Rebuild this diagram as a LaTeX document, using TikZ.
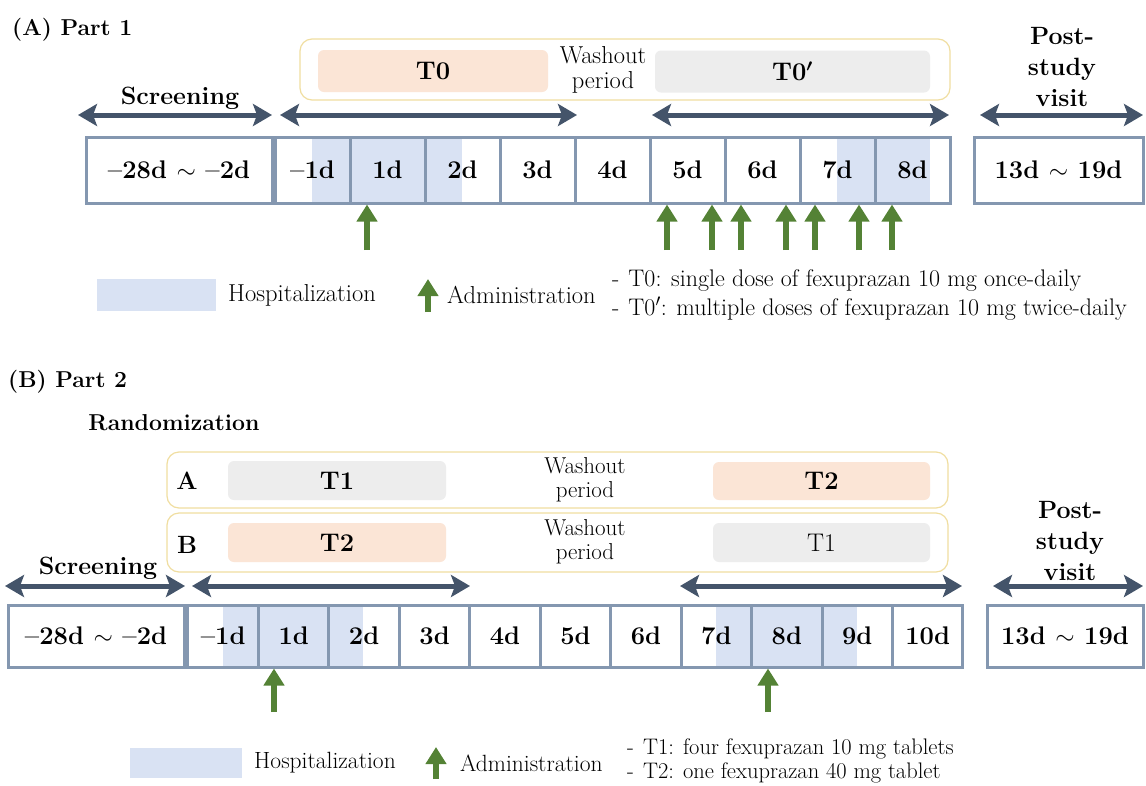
\documentclass[tikz,border=0pt]{standalone}
\usepackage{fontspec}
\usetikzlibrary{arrows.meta}

\definecolor{cellline}{RGB}{132,151,176}
\definecolor{spanblue}{RGB}{68,84,106}
\definecolor{admgreen}{RGB}{84,130,53}
\definecolor{hospblue}{RGB}{217,226,243}
\definecolor{washgold}{RGB}{240,222,160}
\definecolor{tpeach}{RGB}{251,229,214}
\definecolor{tgray}{RGB}{237,237,237}

\newcommand{\pxfont}[2]{\fontsize{#1}{#2}\selectfont}

\begin{document}
\begin{tikzpicture}[x=1pt, y=-1pt,
    daycell/.style={draw=cellline, line width=3pt, minimum width=#1, inner sep=0pt, font=\pxfont{25.5}{26}\bfseries},
    stretch/.style={line width=5pt, draw=spanblue, {Stealth[length=19pt,width=22pt,inset=4pt]}-{Stealth[length=19pt,width=22pt,inset=4pt]}},
    admin/.style={line width=6pt, draw=admgreen, -{Triangle[length=17pt,width=20pt]}},
    washbox/.style={draw=washgold, line width=1.2pt, rounded corners=12pt, fill=white},
    trt/.style={rounded corners=6pt, minimum height=42pt, inner sep=0pt, font=\pxfont{25.5}{26}\bfseries\boldmath},
    headtxt/.style={font=\pxfont{25}{31}\bfseries, align=center, inner sep=0pt},
    legtxt/.style={font=\pxfont{24.5}{26}, anchor=west, inner sep=0pt},
    notetxt/.style={font=\pxfont{24}{25}, anchor=west, align=left, inner sep=0pt}
  ]
  \useasboundingbox (0,0) rectangle (1146,785);

  % ---------- (A) Part 1 ----------
  \node[font=\pxfont{23}{23}\bfseries, anchor=base west, inner sep=0pt] (titleA) at (12,35) {(A) Part 1};

  % treatment periods
  \node[washbox, minimum width=650pt, minimum height=61pt] (washA) at (625,69.5) {};
  \node[trt, fill=tpeach, minimum width=230pt] (t0) at (433,71) {T0};
  \node[trt, fill=tgray, minimum width=275pt] (t0p) at (792.5,71.5) {T0$'$};
  \node[font=\pxfont{24.5}{25}, align=center, inner sep=0pt] (washtxtA) at (603,70) {Washout\\period};

  % hospitalization
  \fill[hospblue] (312,137) rectangle (461.5,203);
  \fill[hospblue] (837,137) rectangle (930,203);

  % days
  \node[daycell=186pt, minimum height=66pt] (scrA) at (179,170) {--28d $\sim$ --2d};
  \foreach \lab [count=\i from 0] in {--1d,1d,2d,3d,4d,5d,6d,7d,8d}
      \node[daycell=75pt, minimum height=66pt] (dA\i) at ({312.5+75*\i},170) {\lab};
  \node[daycell=169pt, minimum height=66pt] (postA) at (1058.5,170) {13d $\sim$ 19d};

  % periods above the days
  \coordinate (scrA-l) at (78,115);   \coordinate (scrA-r) at (272,115);
  \coordinate (t0-l) at (280,115);    \coordinate (t0-r) at (577,115);
  \coordinate (t0p-l) at (652,115);   \coordinate (t0p-r) at (949,115);
  \coordinate (postA-l) at (980,115); \coordinate (postA-r) at (1143,115);
  \draw[stretch] (scrA-l) -- (scrA-r);
  \draw[stretch] (t0-l) -- (t0-r);
  \draw[stretch] (t0p-l) -- (t0p-r);
  \draw[stretch] (postA-l) -- (postA-r);
  \node[headtxt, anchor=base] (scrtxtA) at (180,104) {Screening};
  \node[headtxt] (posttxtA) at (1062,67) {Post-\\study\\visit};

  % dosing
  \foreach \x in {367,667,712,741,786,815,859,892}
      \draw[admin] (\x,250) -- (\x,0 |- dA0.south);

  % legend
  \node[fill=hospblue, minimum width=119pt, minimum height=32pt] (hospkeyA) at (156.5,295) {};
  \node[legtxt] (hosptxtA) at (228,295) {Hospitalization};
  \coordinate (admkeyA-b) at (428,312); \coordinate (admkeyA-t) at (428,279);
  \draw[admin] (admkeyA-b) -- (admkeyA-t);
  \node[legtxt] (admtxtA) at (447,295) {Administration};
  \node[notetxt] (notesA) at (612,295) {-\hspace{9pt}T0: single dose of fexuprazan 10 mg once-daily\\[4pt]-\hspace{9pt}T0$'$: multiple doses of fexuprazan 10 mg twice-daily};

  % ---------- (B) Part 2 ----------
  \node[font=\pxfont{23}{23}\bfseries, anchor=base west, inner sep=0pt] (titleB) at (8,387) {(B) Part 2};
  \node[headtxt, font=\pxfont{23}{25}\bfseries, anchor=base] (randtxt) at (174,430) {Randomization};

  % sequences
  \node[washbox, minimum width=781pt, minimum height=56pt] (seqboxA) at (557.5,480) {};
  \node[washbox, minimum width=781pt, minimum height=59pt] (seqboxB) at (557.5,542.5) {};
  \node[headtxt] (seqA) at (187,481) {A};
  \node[headtxt] (seqB) at (187,545) {B};
  \node[trt, fill=tgray, minimum width=218pt, minimum height=39pt] (t1a) at (337,480.5) {T1};
  \node[trt, fill=tpeach, minimum width=217pt, minimum height=38pt] (t2a) at (821.5,481) {T2};
  \node[trt, fill=tpeach, minimum width=218pt, minimum height=39pt] (t2b) at (337,542.5) {T2};
  \node[trt, fill=tgray, minimum width=217pt, minimum height=39pt, font=\pxfont{25.5}{26}] (t1b) at (821.5,542.5) {T1};
  \node[font=\pxfont{23}{24}, align=center, inner sep=0pt] (washtxtBa) at (585,480) {Washout\\period};
  \node[font=\pxfont{23}{24}, align=center, inner sep=0pt] (washtxtBb) at (585,542) {Washout\\period};

  % hospitalization
  \fill[hospblue] (223,605) rectangle (363,667);
  \fill[hospblue] (716,605) rectangle (857,667);

  % days
  \node[daycell=176pt, minimum height=62pt] (scrB) at (96,636) {--28d $\sim$ --2d};
  \foreach \lab [count=\i from 0] in {--1d,1d,2d,3d,4d,5d,6d,7d,8d,9d,10d}
      \node[daycell=70.45pt, minimum height=62pt] (dB\i) at ({223.2+70.45*\i},636) {\lab};
  \node[daycell=156pt, minimum height=62pt] (postB) at (1065,636) {13d $\sim$ 19d};

  % periods above the days
  \coordinate (scrB-l) at (5,586);     \coordinate (scrB-r) at (185,586);
  \coordinate (p1-l) at (192,586);     \coordinate (p1-r) at (470,586);
  \coordinate (p2-l) at (680,586);     \coordinate (p2-r) at (962,586);
  \coordinate (postB-l) at (993,586);  \coordinate (postB-r) at (1143,586);
  \draw[stretch] (scrB-l) -- (scrB-r);
  \draw[stretch] (p1-l) -- (p1-r);
  \draw[stretch] (p2-l) -- (p2-r);
  \draw[stretch] (postB-l) -- (postB-r);
  \node[headtxt, anchor=base] (scrtxtB) at (98,574) {Screening};
  \node[headtxt] (posttxtB) at (1070,541) {Post-\\study\\visit};

  % dosing
  \foreach \x in {274,768}
      \draw[admin] (\x,712) -- (\x,0 |- dB0.south);

  % legend
  \node[fill=hospblue, minimum width=112pt, minimum height=30pt] (hospkeyB) at (186,763) {};
  \node[legtxt, font=\pxfont{23.5}{25}] (hosptxtB) at (254,763) {Hospitalization};
  \coordinate (admkeyB-b) at (436,779); \coordinate (admkeyB-t) at (436,747);
  \draw[admin] (admkeyB-b) -- (admkeyB-t);
  \node[legtxt, font=\pxfont{23.5}{25}] (admtxtB) at (460,763) {Administration};
  \node[notetxt, font=\pxfont{22.5}{24}] (notesB) at (627,761) {-\hspace{9pt}T1: four fexuprazan 10 mg tablets\\-\hspace{9pt}T2: one fexuprazan 40 mg tablet};
\end{tikzpicture}
\end{document}
